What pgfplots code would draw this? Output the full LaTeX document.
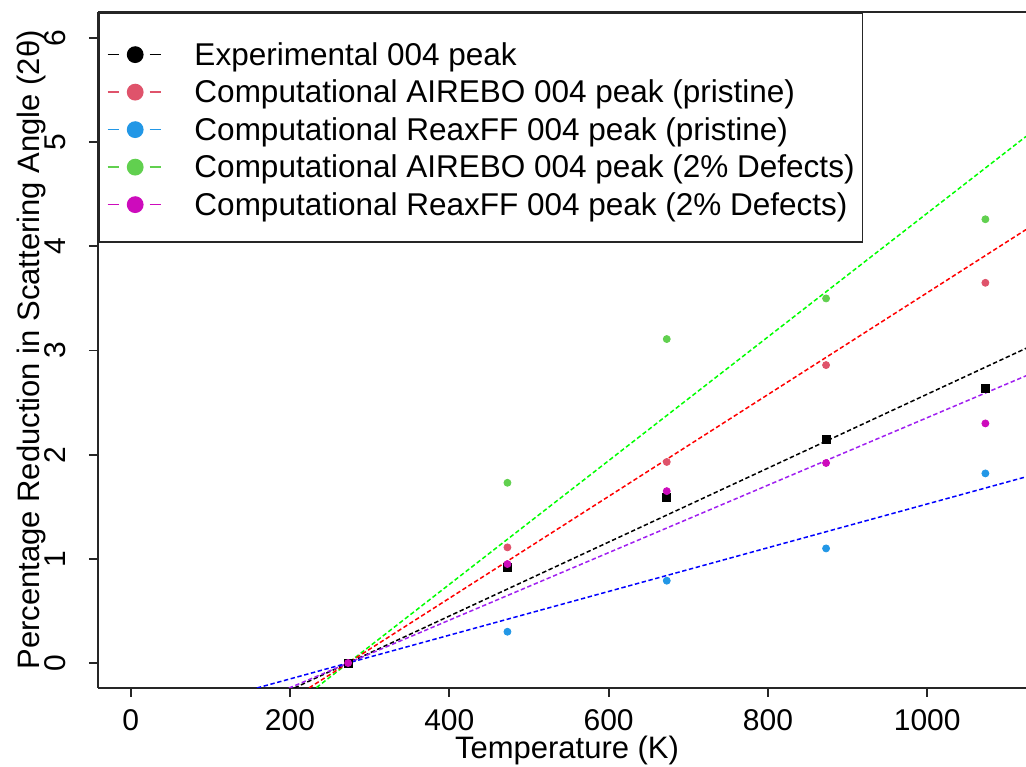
\documentclass[border=0pt]{standalone}
\usepackage{pgfplots}
\pgfplotsset{compat=1.18}
\usepackage{fontspec}
\setmainfont{Liberation Sans}
\definecolor{cred}{HTML}{DF536B}
\definecolor{cblue}{HTML}{2297E6}
\definecolor{cgreen}{HTML}{61D04F}
\definecolor{cmag}{HTML}{CD0BBC}
\definecolor{lpurple}{HTML}{A020F0}
\definecolor{lgreen}{HTML}{00FF00}
\definecolor{lred}{HTML}{FF0000}
\definecolor{lblue}{HTML}{0000FF}
\pgfplotsset{
  dotleg/.style={legend image code/.code={
    \draw[solid, line width=0.8pt] (0pt,-1pt) -- (5.5pt,-1pt);
    \draw[solid, line width=0.8pt] (21pt,-1pt) -- (26.5pt,-1pt);
    \fill (13.75pt,-1pt) circle (3.75pt);
  }},
  fitline/.style={line width=0.75pt, dash pattern=on 2.2pt off 1.3pt, forget plot},
}
\begin{document}
\fontsize{15.5}{18.6}\selectfont
\begin{tikzpicture}
\begin{axis}[
  scale only axis, width=464pt, height=338pt,
  xmin=-41, xmax=1124, ymin=-0.24, ymax=6.25,
  axis x line*=bottom, axis y line*=left,
  axis line style={line width=0.9pt, black!85},
  tick align=outside, major tick length=4.5pt,
  every tick/.style={black!85, line width=0.9pt},
  xtick={0,200,400,600,800,1000}, ytick={0,1,2,3,4,5,6},
  /pgf/number format/assume math mode=true,
  /pgf/number format/1000 sep={},
  tick label style={font=\fontsize{15}{18}\selectfont},
  xticklabel style={yshift=-17pt, anchor=base},
  yticklabel style={xshift=-11.5pt, rotate=90, anchor=base},
  xlabel={Temperature (K)},
  ylabel={Percentage Reduction in Scattering Angle (2θ)},
  xlabel style={at={(axis description cs:0.5054,-0.105)}, anchor=base},
  ylabel style={at={(axis description cs:-0.0625,0.5)}, anchor=base},
  legend cell align=left,
  legend style={at={(rel axis cs:0,1)}, anchor=north west, draw=black!85,
    line width=0.9pt, fill=white, inner xsep=4pt, inner ysep=10.5pt,
    row sep=0pt, column sep=16.5pt, font=\fontsize{15.75}{18}\selectfont,
    nodes={inner sep=0pt, text height=15.75pt, text depth=3pt, anchor=west}},
]
% fitted lines
\addplot[fitline, lgreen] coordinates {(150,-0.731) (1124,5.055)};
\addplot[fitline, lred] coordinates {(150,-0.601) (1124,4.161)};
\addplot[fitline, black] coordinates {(150,-0.437) (1124,3.021)};
\addplot[fitline, lpurple] coordinates {(150,-0.399) (1124,2.757)};
\addplot[fitline, lblue] coordinates {(150,-0.258) (1124,1.787)};
% data points
\addplot[only marks, mark=*, mark size=1.75pt, cgreen, forget plot] coordinates {(273,0) (473,1.73) (673,3.11) (873,3.50) (1073,4.26)};
\addplot[only marks, mark=*, mark size=1.75pt, cred, forget plot] coordinates {(273,0) (473,1.11) (673,1.93) (873,2.86) (1073,3.65)};
\addplot[only marks, mark=*, mark size=1.75pt, cblue, forget plot] coordinates {(273,0) (473,0.30) (673,0.79) (873,1.10) (1073,1.82)};
\addplot[only marks, mark=square*, mark size=2pt, black, forget plot] coordinates {(273,0) (473,0.92) (673,1.59) (873,2.15) (1073,2.64)};
\addplot[only marks, mark=*, mark size=1.75pt, cmag, forget plot] coordinates {(273,0) (473,0.95) (673,1.65) (873,1.92) (1073,2.30)};
% legend
\addlegendimage{dotleg, black}
\addlegendentry{Experimental 004 peak}
\addlegendimage{dotleg, cred}
\addlegendentry{Computational AIREBO 004 peak (pristine)}
\addlegendimage{dotleg, cblue}
\addlegendentry{Computational ReaxFF 004 peak (pristine)}
\addlegendimage{dotleg, cgreen}
\addlegendentry{Computational AIREBO 004 peak (2\% Defects)\hspace{6.5pt}}
\addlegendimage{dotleg, cmag}
\addlegendentry{Computational ReaxFF 004 peak (2\% Defects)}
\coordinate (SW) at (rel axis cs:0,0);
\coordinate (NE) at (rel axis cs:1,1);
\end{axis}
\draw[line width=0.9pt, black!85] (SW |- NE) -- (NE);
\pgfresetboundingbox
\path ([shift={(-49pt,-39.5pt)}]SW) rectangle ([shift={(0pt,6pt)}]NE);
\end{tikzpicture}
\end{document}
